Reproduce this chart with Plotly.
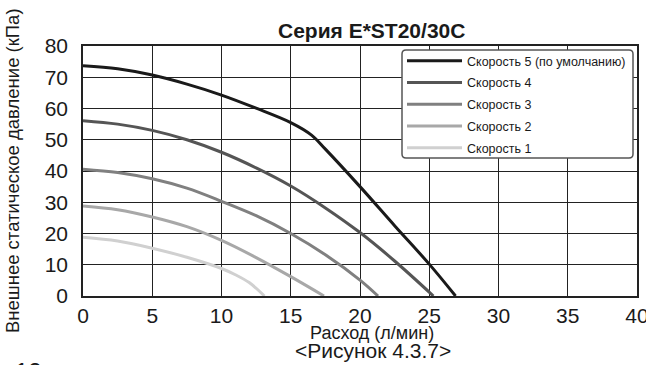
import plotly.graph_objects as go

names = ["Скорость 5 (по умолчанию)", "Скорость 4", "Скорость 3", "Скорость 2", "Скорость 1"]
colors = ["#1a1a1a", "#555555", "#808080", "#a8a8a8", "#d0d0d0"]

s5_x = [0, 2.5, 5, 7.5, 10, 12.5, 15, 16.5, 17.5, 20, 22.5, 25, 26.9]
s5_y = [73.7, 72.7, 70.7, 67.8, 64.3, 60.1, 55.5, 51.5, 47.0, 35.0, 22.5, 10.2, 0]
s4_x = [0, 2.5, 5, 7.5, 10, 12.5, 15, 17.5, 20, 22.5, 25.3]
s4_y = [56.1, 55.0, 53.0, 50.0, 46.0, 41.0, 35.2, 28.2, 20.3, 11.2, 0]
s3_x = [0, 2.5, 5, 7.5, 10, 12.5, 15, 17.5, 20, 21.3]
s3_y = [40.6, 39.5, 37.5, 34.5, 30.3, 25.7, 20.0, 13.2, 5.1, 0]
s2_x = [0, 2.5, 5, 7.5, 10, 12.5, 15, 17.4]
s2_y = [28.8, 27.6, 25.3, 22.2, 17.8, 12.3, 6.2, 0]
s1_x = [0, 2.5, 5, 7.5, 10, 11, 12, 13.1]
s1_y = [18.8, 17.6, 15.3, 12.4, 8.8, 6.8, 4.3, 0]

xs = [s5_x, s4_x, s3_x, s2_x, s1_x]
ys = [s5_y, s4_y, s3_y, s2_y, s1_y]

font = "Liberation Sans, Arial, sans-serif"
ink = "#1a1a1a"

W, H = 646, 365
ML, MR, MT, MB = 83, 9, 46, 69
PW, PH = W - ML - MR, H - MT - MB


def px_x(p):
    return (p - ML) / PW


def px_y(p):
    return (H - MB - p) / PH


# rounded legend frame (pixel extents converted to paper coords)
bx0, bx1, by0, by1, r = px_x(402), px_x(633), px_y(158), px_y(50), 4
rx, ry = r / PW, r / PH
frame = (f"M {bx0+rx},{by1} L {bx1-rx},{by1} Q {bx1},{by1} {bx1},{by1-ry} "
         f"L {bx1},{by0+ry} Q {bx1},{by0} {bx1-rx},{by0} L {bx0+rx},{by0} "
         f"Q {bx0},{by0} {bx0},{by0+ry} L {bx0},{by1-ry} Q {bx0},{by1} {bx0+rx},{by1} Z")

fig = go.Figure()
for i, (n, c, x, y) in enumerate(zip(names, colors, xs, ys)):
    fig.add_trace(go.Scatter(x=x, y=y, name=n, mode="lines", legendgroup="g%d" % i,
                             line=dict(color=c, width=3, shape="spline", smoothing=1.0)))

axis_common = dict(showgrid=True, gridcolor="#222222", gridwidth=1,
                   showline=True, linecolor="#222222", linewidth=1.5, mirror=True,
                   zeroline=False, ticks="", automargin=False,
                   tickfont=dict(size=21, family=font, color=ink))

fig.update_layout(
    width=W, height=H,
    margin=dict(l=ML, r=MR, t=MT, b=MB),
    paper_bgcolor="white", plot_bgcolor="white",
    font=dict(family=font, color=ink),
    showlegend=True,
    legend=dict(x=px_x(402), y=1.0, xanchor="left", yanchor="top",
                bgcolor="rgba(0,0,0,0)", borderwidth=0,
                font=dict(family=font, size=12.5, color=ink),
                traceorder="grouped", tracegroupgap=2.5, itemwidth=55),
    xaxis=dict(range=[0, 40], dtick=5, tick0=0, ticklabelstandoff=0,
               ticklabeloverflow="allow", **axis_common),
    yaxis=dict(range=[0, 80], dtick=10, tick0=0, ticklabelstandoff=9, **axis_common),
    shapes=[dict(type="path", path=frame, xref="paper", yref="paper", layer="above",
                 fillcolor="white", line=dict(color="#555555", width=1.5))],
    annotations=[
        dict(text="<b>Серия E*ST20/30C</b>", xref="paper", yref="paper", x=px_x(371), y=1.0,
             xanchor="center", yanchor="bottom", yshift=2, showarrow=False,
             font=dict(size=21, family=font, color=ink)),
        dict(text="Внешнее статическое давление (кПа)", xref="paper", yref="paper",
             x=0, y=0.5, xshift=-71, xanchor="center", yanchor="middle", textangle=-90,
             showarrow=False, font=dict(size=18.5, family=font, color=ink)),
        dict(text="Расход (л/мин)", xref="paper", yref="paper", x=px_x(372), y=0, yshift=-25,
             xanchor="center", yanchor="top", showarrow=False,
             font=dict(size=18, family=font, color=ink)),
        dict(text="&lt;Рисунок 4.3.7&gt;", xref="paper", yref="paper", x=px_x(373), y=0, yshift=-41,
             xanchor="center", yanchor="top", showarrow=False,
             font=dict(size=21, family=font, color=ink)),
        dict(text="12", xref="paper", yref="paper", x=0, y=0, xshift=-70, yshift=-60,
             xanchor="left", yanchor="top", showarrow=False,
             font=dict(size=24, family=font, color=ink)),
    ],
)

fig.write_html("out.html", config={"displayModeBar": False},
               post_script="document.body.style.margin='0px';")
